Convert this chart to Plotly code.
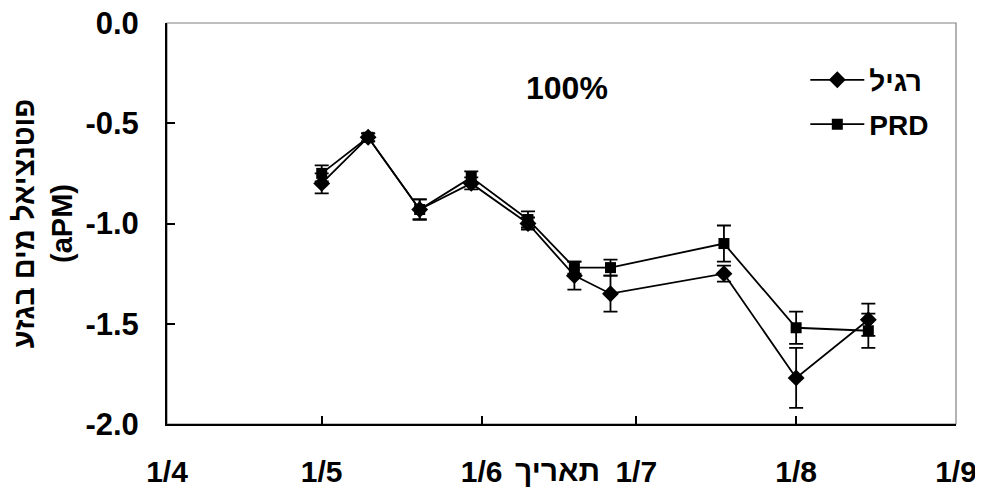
import plotly.graph_objects as go

dates = ["2024-05-01", "2024-05-10", "2024-05-20", "2024-05-30", "2024-06-10",
         "2024-06-19", "2024-06-26", "2024-07-18", "2024-08-01", "2024-08-15"]
regil = [-0.80, -0.57, -0.93, -0.80, -1.00, -1.26, -1.35, -1.25, -1.77, -1.48]
regil_err = [0.05, 0.02, 0.05, 0.03, 0.03, 0.07, 0.09, 0.04, 0.15, 0.08]
prd = [-0.75, -0.57, -0.93, -0.77, -0.98, -1.22, -1.22, -1.10, -1.52, -1.535]
prd_err = [0.04, 0.02, 0.05, 0.03, 0.04, 0.03, 0.04, 0.09, 0.08, 0.085]

x_tick_vals = ["2024-04-01", "2024-05-01", "2024-06-01", "2024-07-01", "2024-08-01", "2024-09-01"]
x_tick_text = ["1/4", "1/5", "1/6", "1/7", "1/8", "1/9"]
y_tick_vals = [0.0, -0.5, -1.0, -1.5, -2.0]
y_tick_text = ["0.0", "-0.5", "-1.0", "-1.5", "-2.0"]

FONT = "Liberation Sans, Arial, sans-serif"

fig = go.Figure()
fig.add_trace(go.Scatter(
    x=dates, y=regil, name="רגיל", mode="lines+markers",
    line=dict(color="black", width=1.8),
    marker=dict(symbol="diamond", size=13, color="black"),
    error_y=dict(type="data", array=regil_err, color="black", thickness=1.8, width=7),
    legendgroup="a",
))
fig.add_trace(go.Scatter(
    x=dates, y=prd, name="PRD", mode="lines+markers",
    line=dict(color="black", width=1.8),
    marker=dict(symbol="square", size=11, color="black"),
    error_y=dict(type="data", array=prd_err, color="black", thickness=1.8, width=7),
    legendgroup="b",
))

# page body adds an 8px offset; figure sized/margined to compensate
fig.update_layout(
    width=975, height=485,
    margin=dict(l=159, r=27, t=15, b=69),
    paper_bgcolor="white", plot_bgcolor="white",
    font=dict(family=FONT, size=30, color="black", weight="bold"),
    showlegend=True,
    legend=dict(x=0.809, y=0.92, xanchor="left", yanchor="top",
                bgcolor="rgba(0,0,0,0)", traceorder="grouped", tracegroupgap=5,
                itemwidth=54,
                font=dict(family=FONT, size=28, color="black", weight="bold")),
    shapes=[dict(type="rect", xref="paper", yref="paper", x0=0, x1=1, y0=0, y1=1,
                 line=dict(color="#808080", width=1.2), layer="below")],
    annotations=[
        dict(text="100%", xref="paper", yref="paper", x=0.5076, y=0.839,
             xanchor="center", yanchor="middle", showarrow=False,
             font=dict(family=FONT, size=32, color="black", weight="bold")),
        dict(text="תאריך", xref="paper", yref="paper", x=0.4943, y=-0.117,
             xanchor="center", yanchor="middle", showarrow=False,
             font=dict(family=FONT, size=30, color="black", weight="bold")),
    ],
)

fig.update_xaxes(
    type="date", range=["2024-04-01", "2024-09-01"],
    tickvals=x_tick_vals, ticktext=x_tick_text,
    ticks="inside", ticklen=8, tickwidth=1.5, tickcolor="black",
    showline=True, linecolor="black", linewidth=2,
    showgrid=False, zeroline=False, automargin=False,
    ticklabelstandoff=20, ticklabeloverflow="allow",
    tickfont=dict(family=FONT, size=30, color="black", weight="bold"),
)
fig.update_yaxes(
    range=[-2, 0], tickvals=y_tick_vals, ticktext=y_tick_text,
    ticks="inside", ticklen=8, tickwidth=1.5, tickcolor="black",
    showline=True, linecolor="black", linewidth=2,
    showgrid=False, zeroline=False, automargin=False,
    ticklabelstandoff=20, ticklabeloverflow="allow",
    tickfont=dict(family=FONT, size=31, color="black", weight="bold"),
    title=dict(text="פוטנציאל מים בגזע<br>(aPM)", standoff=6,
               font=dict(family=FONT, size=29, color="black", weight="bold")),
)

fig.write_html("out.html")
